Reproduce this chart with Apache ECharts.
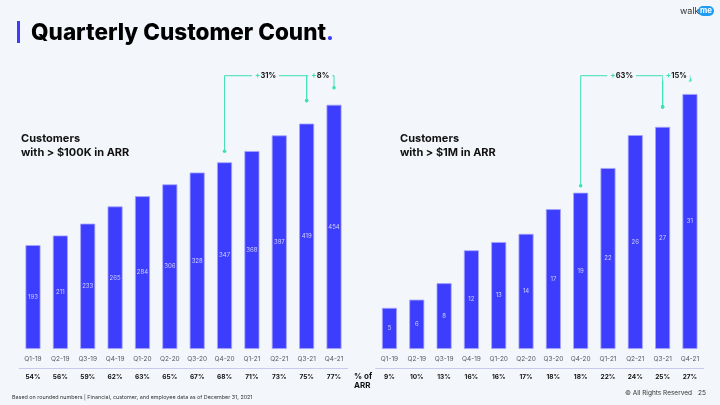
<!DOCTYPE html>
<html>
<head>
<meta charset="utf-8">
<script src="https://cdn.jsdelivr.net/npm/echarts@6/dist/echarts.min.js"></script>
<style>
html,body{margin:0;padding:0;background:#f3f6fa;}
#c{width:720px;height:405px;}
</style>
</head>
<body>
<div id="c"></div>
<script>
const quarters = ['Q1-19','Q2-19','Q3-19','Q4-19','Q1-20','Q2-20','Q3-20','Q4-20','Q1-21','Q2-21','Q3-21','Q4-21'];
const over100k = [193,211,233,265,284,306,328,347,368,397,419,454];
const over1m = [5,6,8,12,13,14,17,19,22,26,27,31];
const pct100k = ['54%','56%','59%','62%','63%','65%','67%','68%','71%','73%','75%','77%'];
const pct1m = ['9%','10%','13%','16%','16%','17%','18%','18%','22%','24%','25%','27%'];
const growth100k = [{from:'Q4-20', to:'Q3-21', text:'31%'}, {from:'Q3-21', to:'Q4-21', text:'8%'}];
const growth1m = [{from:'Q4-20', to:'Q3-21', text:'63%'}, {from:'Q3-21', to:'Q4-21', text:'15%'}];

const BG = '#f3f6fa';
const BAR = '#3d3dfd';
const TEAL = '#3ee0b4';
const FONT = 'Inter, "Noto Sans", sans-serif';

const chart = echarts.init(document.getElementById('c'), null, {renderer:'canvas'});

function catAxis(grid, data) {
  return {
    type:'category', gridIndex:grid, data:data,
    axisLine:{show:false}, axisTick:{show:false},
    axisLabel:{color:'#55555f', fontSize:6.5, fontFamily:FONT, margin:7}
  };
}
function pctAxis(grid, data) {
  return {
    type:'category', gridIndex:grid, data:data, position:'bottom', offset:19,
    axisLine:{show:true, lineStyle:{color:'#c7c9ee', width:1}}, axisTick:{show:false},
    axisLabel:{color:'#111', fontSize:6.5, fontWeight:'bold', fontFamily:FONT, margin:6}
  };
}
function barSeries(idx, data) {
  return {
    type:'bar', xAxisIndex:idx, yAxisIndex:idx, data:data, barWidth:15,
    itemStyle:{color:BAR, borderColor:'#a5a5ff', borderWidth:0.8},
    label:{show:true, position:'inside', color:'#cfcfff', fontSize:6, fontFamily:FONT},
    silent:true, animation:false
  };
}

const option = {
  backgroundColor: BG,
  animation:false,
  grid:[
    {left:19.3, width:328.4, top:80, height:269},
    {left:375.8, width:327.8, top:94, height:255}
  ],
  xAxis:[catAxis(0, quarters), catAxis(1, quarters), pctAxis(0, pct100k), pctAxis(1, pct1m)],
  yAxis:[
    {type:'value', gridIndex:0, min:0, max:500, show:false},
    {type:'value', gridIndex:1, min:0, max:31, show:false}
  ],
  series:[barSeries(0, over100k), barSeries(1, over1m)]
};
chart.setOption(option);

function brackets(seriesIdx, values, list, offsets) {
  const els = [];
  const lineY = 75.7;
  const pts = list.map((g, i) => {
    const i1 = quarters.indexOf(g.from), i2 = quarters.indexOf(g.to);
    const p1 = chart.convertToPixel({seriesIndex:seriesIdx}, [i1, values[i1]]);
    const p2 = chart.convertToPixel({seriesIndex:seriesIdx}, [i2, values[i2]]);
    return {x1:p1[0], y1:p1[1] - offsets[i], x2:p2[0], y2:p2[1] - offsets[i+1], text:g.text};
  });
  pts.forEach(p => {
    els.push({type:'polyline', shape:{points:[[p.x1,p.y1],[p.x1,lineY],[p.x2,lineY],[p.x2,p.y2]]},
      style:{stroke:TEAL, lineWidth:1, fill:null}, silent:true});
  });
  pts.forEach(p => {
    els.push({type:'circle', shape:{cx:p.x1, cy:p.y1, r:1.8}, style:{fill:TEAL}, silent:true});
    els.push({type:'circle', shape:{cx:p.x2, cy:p.y2, r:1.8}, style:{fill:TEAL}, silent:true});
    els.push({type:'text', x:(p.x1+p.x2)/2, y:lineY, silent:true, z:10,
      style:{text:'{p|+}{t|' + p.text + '}', align:'center', verticalAlign:'middle',
        backgroundColor:BG, padding:[1,3],
        rich:{p:{fill:TEAL, fontSize:8, fontWeight:'bold', fontFamily:FONT},
              t:{fill:'#1a1a1a', fontSize:7.5, fontWeight:'bold', fontFamily:FONT}}}});
  });
  return els;
}

const graphic = [
  {type:'rect', shape:{x:17, y:21, width:3, height:22}, style:{fill:BAR}},
  {type:'text', x:31, y:33, style:{text:'{a|Quarterly Customer Count}{b|.}', verticalAlign:'middle',
    rich:{a:{fill:'#000', fontSize:22.5, fontWeight:800, fontFamily:FONT},
          b:{fill:BAR, fontSize:22.5, fontWeight:800, fontFamily:FONT}}}},
  {type:'text', x:680, y:11, style:{text:'walk', fill:'#333', fontSize:9, fontFamily:FONT, verticalAlign:'middle'}},
  {type:'rect', shape:{x:698, y:6, width:16, height:10, r:5}, style:{fill:'#1f9cf0'}},
  {type:'text', x:706, y:11, style:{text:'me', fill:'#fff', fontSize:8, fontWeight:'bold', fontFamily:FONT, align:'center', verticalAlign:'middle'}},
  {type:'text', x:21, y:139, style:{text:'Customers', fill:'#111', fontSize:11, fontWeight:'bold', fontFamily:FONT, verticalAlign:'middle'}},
  {type:'text', x:21, y:153, style:{text:'with > $100K in ARR', fill:'#111', fontSize:11, fontWeight:'bold', fontFamily:FONT, verticalAlign:'middle'}},
  {type:'text', x:400, y:139, style:{text:'Customers', fill:'#111', fontSize:11, fontWeight:'bold', fontFamily:FONT, verticalAlign:'middle'}},
  {type:'text', x:400, y:153, style:{text:'with > $1M in ARR', fill:'#111', fontSize:11, fontWeight:'bold', fontFamily:FONT, verticalAlign:'middle'}},
  {type:'text', x:354, y:377, style:{text:'% of', fill:'#111', fontSize:8, fontWeight:'bold', fontFamily:FONT, verticalAlign:'middle'}},
  {type:'text', x:354, y:386, style:{text:'ARR', fill:'#111', fontSize:8, fontWeight:'bold', fontFamily:FONT, verticalAlign:'middle'}},
  {type:'text', x:12, y:397, style:{text:'Based on rounded numbers | Financial, customer, and employee data as of December 31, 2021', fill:'#333', fontSize:5.4, fontFamily:FONT, verticalAlign:'middle'}},
  {type:'text', x:692, y:393, style:{text:'© All Rights Reserved', fill:'#333', fontSize:6.5, fontFamily:FONT, align:'right', verticalAlign:'middle'}},
  {type:'text', x:698, y:393, style:{text:'25', fill:'#333', fontSize:6.5, fontFamily:FONT, verticalAlign:'middle'}}
].concat(brackets(0, over100k, growth100k, [11, 23, 17]))
 .concat(brackets(1, over1m, growth1m, [7, 20, 14]));

chart.setOption({graphic: graphic});
</script>
</body>
</html>
